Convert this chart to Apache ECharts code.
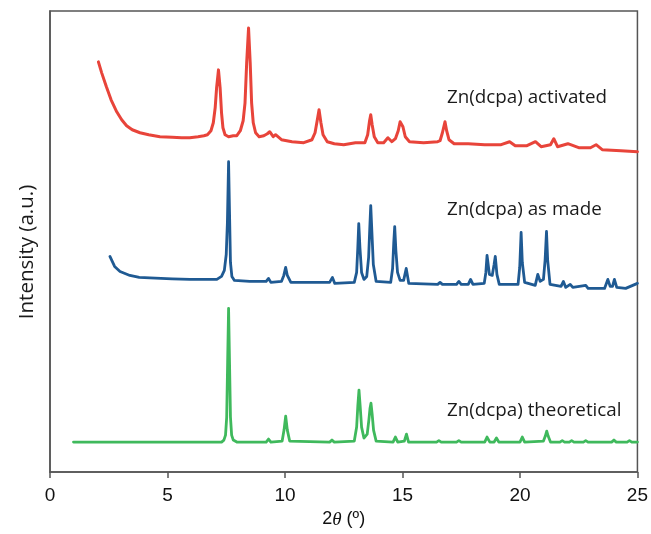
<!DOCTYPE html>
<html>
<head>
<meta charset="utf-8">
<title>Zn(dcpa) PXRD</title>
<script src="https://cdn.jsdelivr.net/npm/echarts@6/dist/echarts.min.js"></script>
<style>
  html, body { margin: 0; padding: 0; background: #fff; }
  #chart { width: 651px; height: 534px; }
</style>
</head>
<body>
<div id="chart"></div>
<script>
// Powder X-ray diffraction patterns, [2θ (deg), intensity (a.u., stacked offsets included)]
const activated = [
  [2.06,411],[2.2,400],[2.4,386],[2.6,373],[2.84,361],[3.05,353],[3.26,347],[3.5,343],[3.83,340],
  [4.2,338],[4.68,336],[5.2,335.5],[5.6,335],[5.95,335],[6.3,336],[6.55,337],
  [6.7,338],[6.85,342],[6.95,350],[7.03,365],[7.09,385],[7.17,403],[7.24,385],[7.3,360],[7.36,345],[7.45,338],
  [7.6,336],[7.8,337],[7.95,337],[8.1,342],[8.22,352],[8.3,370],[8.37,410],[8.45,445],[8.52,410],[8.58,370],
  [8.65,350],[8.75,340],[8.9,336],
  [9.1,337],[9.25,339],[9.35,341],[9.5,336],[9.6,338],[9.67,340],[9.85,333],[10.3,331],[10.8,330],
  [11.15,333],[11.28,340],[11.37,352],[11.45,363],[11.53,350],[11.62,338],[11.8,331],[12.1,329],[12.5,328],[13.0,330],
  [13.4,330],[13.52,338],[13.6,352],[13.65,358],[13.71,348],[13.8,336],[13.95,330],[14.2,330],[14.38,335],[14.55,331],
  [14.7,334],[14.82,342],[14.9,351],[14.95,353],[15.02,346],[15.12,336],[15.3,331],[15.9,330],[16.5,331],
  [16.6,332],[16.7,340],[16.81,351],[16.88,342],[16.98,333],[17.2,329],[17.8,329],[18.5,328],[19.2,328],[19.56,331],
  [19.8,327],[20.3,327],[20.66,331],[20.9,326],[21.3,328],[21.44,334],[21.6,326],[22.04,329],
  [22.5,325],[23.0,325],[23.24,328],[23.5,323],[24.3,322],[25,321]
];
const asMade = [
  [2.55,216],[2.75,206],[2.98,201],[3.4,197],[3.8,195],[4.25,194.5],[5.2,193.5],[5.95,193],[7.1,193],
  [7.3,196],[7.42,202],[7.5,218],[7.55,250],[7.6,311],[7.64,260],[7.68,210],[7.74,196],[7.85,192],
  [8.5,191],[9.2,191],[9.3,194],[9.4,190],[9.85,191],[9.95,197],[10.03,205],[10.1,197],[10.25,190],
  [11.9,190],[12.02,195],[12.12,189],[12.95,190],[13.05,200],[13.1,225],[13.14,249],[13.19,225],[13.26,200],[13.36,193],
  [13.48,196],[13.56,215],[13.61,245],[13.65,267],[13.7,240],[13.76,208],[13.88,191],[14.5,190],[14.58,204],[14.63,230],[14.67,246],
  [14.72,222],[14.79,200],[14.9,192],[15.05,192],[15.16,204],[15.27,189],[16.5,188],[16.6,190],[16.7,188],
  [17.3,188],[17.4,191],[17.5,188],[17.8,188],[17.9,193],[18.0,188],[18.48,189],[18.55,200],[18.6,217],
  [18.7,198],[18.82,197],[18.9,208],[18.95,216],[19.02,198],[19.12,188],[19.92,188],[19.99,205],[20.05,240],[20.1,210],
  [20.2,190],[20.65,187],[20.76,198],[20.86,191],[21.0,193],[21.07,212],[21.13,241],[21.18,212],
  [21.28,188],[21.75,186],[21.85,191],[21.95,185],[22.14,188],[22.25,185],[22.8,187],[22.9,184],
  [23.6,184],[23.74,193],[23.84,186],[23.94,186],[24.02,193],[24.12,185],[24.5,184],[25,189]
];
const theoretical = [
  [1.0,30],[7.3,30],[7.4,32],[7.47,37],[7.52,55],[7.56,110],[7.6,164],[7.64,110],[7.68,55],[7.73,37],[7.8,32],[7.95,30],
  [9.2,30],[9.3,33],[9.4,30],[9.88,31],[9.96,42],[10.03,56],[10.1,42],[10.2,31],[11.9,30],[12.0,32],
  [12.1,30],[12.95,31],[13.05,45],[13.1,66],[13.15,82],[13.2,66],[13.26,45],[13.36,34],[13.5,38],[13.57,52],[13.62,64],[13.66,69],
  [13.71,58],[13.77,42],[13.88,31],[14.6,30],[14.7,35],[14.8,30],[15.08,31],[15.17,38],[15.26,30],[16.45,30],
  [16.55,31.5],[16.65,30],[17.3,30],[17.4,31.5],[17.5,30],[18.5,30],[18.6,35],[18.72,30],[18.9,30],
  [19.0,34],[19.1,30],[20.0,30],[20.1,35],[20.2,30],[21.0,31],[21.08,36],[21.14,41],[21.2,36],[21.3,30],[21.7,30],
  [21.8,31.5],[21.9,30],[22.1,30],[22.2,31.5],[22.3,30],[22.7,30],[22.8,31.5],[22.9,30],[23.9,30],
  [24.0,32],[24.1,30],[24.56,30],[24.66,31.5],[24.76,30],[25,30]
];
const seriesNames = ['Zn(dcpa) activated', 'Zn(dcpa) as made', 'Zn(dcpa) theoretical'];
const xTicks = [0, 5, 10, 15, 20, 25];

const chart = echarts.init(document.getElementById('chart'), null, { renderer: 'canvas' });

const lineSeries = (name, data, color, width) => ({
  name, type: 'line', data, symbol: 'none', smooth: false,
  lineStyle: { color, width, join: 'round', cap: 'round' },
  z: 3
});

chart.setOption({
  animation: false,
  backgroundColor: '#ffffff',
  grid: { left: 50, top: 11, width: 588, height: 462, show: true,
          borderColor: '#555555', borderWidth: 1.5, backgroundColor: 'transparent' },
  xAxis: {
    type: 'value', min: xTicks[0], max: xTicks[xTicks.length - 1], interval: 5,
    axisLine: { show: true, lineStyle: { color: '#555555', width: 1.5 } },
    axisTick: { show: true, inside: false, length: 6, lineStyle: { color: '#555555', width: 1.5 } },
    splitLine: { show: false },
    axisLabel: { color: '#111', fontFamily: 'Liberation Sans', fontSize: 19, margin: 14 },
    name: '2{t|θ} (º)',
    nameLocation: 'middle', nameGap: 38,
    nameTextStyle: { color: '#111', fontFamily: 'Liberation Sans', fontSize: 18,
      rich: { t: { fontStyle: 'italic', fontFamily: 'Liberation Serif', fontSize: 19, color: '#111' } } }
  },
  yAxis: {
    type: 'value', min: 0, max: 462,
    axisLine: { show: true, lineStyle: { color: '#555555', width: 1.5 } },
    axisTick: { show: false }, axisLabel: { show: false }, splitLine: { show: false }
  },
  series: [
    lineSeries(seriesNames[0], activated, '#e8443a', 3),
    lineSeries(seriesNames[1], asMade, '#1f5a93', 2.8),
    lineSeries(seriesNames[2], theoretical, '#3fb95c', 2.8)
  ],
  graphic: [
    { type: 'text', left: 447, top: 88, style: { text: seriesNames[0], fill: '#1a1a1a', font: '18.8px "Open Sans"' } },
    { type: 'text', left: 447, top: 200, style: { text: seriesNames[1], fill: '#1a1a1a', font: '18.8px "Open Sans"' } },
    { type: 'text', left: 447, top: 401, style: { text: seriesNames[2], fill: '#1a1a1a', font: '18.8px "Open Sans"' } },
    { type: 'text', x: 27, y: 252, rotation: Math.PI / 2,
      style: { text: 'Intensity (a.u.)', fill: '#1a1a1a', font: '20.5px "Open Sans"', align: 'center', verticalAlign: 'middle' } }
  ]
});
</script>
</body>
</html>
